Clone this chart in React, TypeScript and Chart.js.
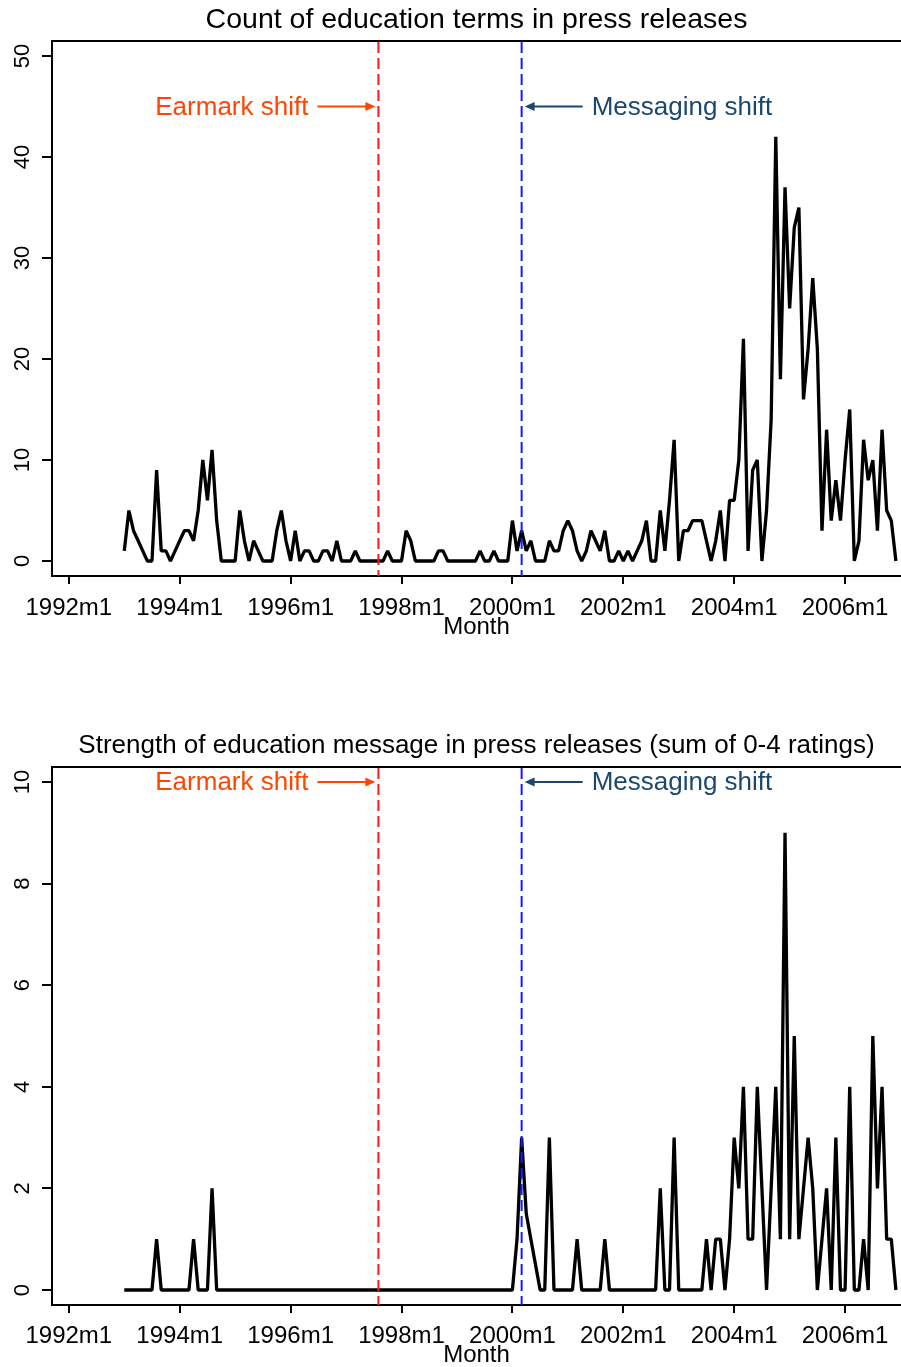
import React, { useEffect, useRef } from "react";
import { Chart, registerables } from "chart.js";

Chart.register(...registerables);

const FONT = '"Liberation Sans", Arial, Helvetica, sans-serif';

// months are counted from 1992m1 (= 0); the series start at 1993m1
const firstMonth = 12;
const xTickMonths = [0, 24, 48, 72, 96, 120, 144, 168];
const xTickLabels = ["1992m1", "1994m1", "1996m1", "1998m1", "2000m1", "2002m1", "2004m1", "2006m1"];
const countTicks = [0, 10, 20, 30, 40, 50];
const strengthTicks = [0, 2, 4, 6, 8, 10];

// Count of education terms in press releases, 1993m1 .. 2006m12
const countValues = [
  1, 5, 3, 2, 1, 0, 0, 9, 1, 1, 0, 1,
  2, 3, 3, 2, 5, 10, 6, 11, 4, 0, 0, 0,
  0, 5, 2, 0, 2, 1, 0, 0, 0, 3, 5, 2,
  0, 3, 0, 1, 1, 0, 0, 1, 1, 0, 2, 0,
  0, 0, 1, 0, 0, 0, 0, 0, 0, 1, 0, 0,
  0, 3, 2, 0, 0, 0, 0, 0, 1, 1, 0, 0,
  0, 0, 0, 0, 0, 1, 0, 0, 1, 0, 0, 0,
  4, 1, 3, 1, 2, 0, 0, 0, 2, 1, 1, 3,
  4, 3, 1, 0, 1, 3, 2, 1, 3, 0, 0, 1,
  0, 1, 0, 1, 2, 4, 0, 0, 5, 1, 6, 12,
  0, 3, 3, 4, 4, 4, 2, 0, 2, 5, 0, 6,
  6, 10, 22, 1, 9, 10, 0, 5, 14, 42, 18, 37,
  25, 33, 35, 16, 21, 28, 21, 3, 13, 4, 8, 4,
  10, 15, 0, 2, 12, 8, 10, 3, 13, 5, 4, 0,
];

// Strength of education message (sum of 0-4 ratings), 1993m1 .. 2006m12
const strengthValues = [
  0, 0, 0, 0, 0, 0, 0, 1, 0, 0, 0, 0,
  0, 0, 0, 1, 0, 0, 0, 2, 0, 0, 0, 0,
  0, 0, 0, 0, 0, 0, 0, 0, 0, 0, 0, 0,
  0, 0, 0, 0, 0, 0, 0, 0, 0, 0, 0, 0,
  0, 0, 0, 0, 0, 0, 0, 0, 0, 0, 0, 0,
  0, 0, 0, 0, 0, 0, 0, 0, 0, 0, 0, 0,
  0, 0, 0, 0, 0, 0, 0, 0, 0, 0, 0, 0,
  0, 1, 3, 1.5, 1, 0.5, 0, 0, 3, 0, 0, 0,
  0, 0, 1, 0, 0, 0, 0, 0, 1, 0, 0, 0,
  0, 0, 0, 0, 0, 0, 0, 0, 2, 0, 0, 3,
  0, 0, 0, 0, 0, 0, 1, 0, 1, 1, 0, 1,
  3, 2, 4, 1, 1, 4, 2, 0, 2, 4, 1, 9,
  1, 5, 1, 2, 3, 2, 0, 1, 2, 0, 3, 0,
  0, 4, 0, 0, 1, 0, 5, 2, 4, 1, 1, 0,
];

const shiftMonths = [67, 98]; // 1997m8, 2000m3
const shiftLabels = ["Earmark shift", "Messaging shift"];
const shiftLineColors = ["#ff1a1a", "#1a1aff"];
const shiftTextColors = ["#ff4500", "#1a476f"];

const shiftPlugin = {
  id: "shiftMarks",
  afterDatasetsDraw(chart: any, _args: any, opts: any) {
    const { ctx, chartArea: a, scales } = chart;
    const x = scales.x;
    const y = scales.y;
    ctx.save();
    // top frame line of the plot region
    ctx.strokeStyle = "#000";
    ctx.lineWidth = 2;
    ctx.beginPath();
    ctx.moveTo(a.left - 1, a.top);
    ctx.lineTo(a.right, a.top);
    ctx.stroke();

    const ly = y.getPixelForValue(opts.labelValue);
    shiftMonths.forEach((m: number, i: number) => {
      const px = x.getPixelForValue(m);
      ctx.setLineDash([11, 5]);
      ctx.strokeStyle = shiftLineColors[i];
      ctx.lineWidth = 2;
      ctx.beginPath();
      ctx.moveTo(px, a.top + 1);
      ctx.lineTo(px, a.bottom);
      ctx.stroke();
      ctx.setLineDash([]);

      const dir = i === 0 ? -1 : 1;
      const col = shiftTextColors[i];
      ctx.strokeStyle = col;
      ctx.fillStyle = col;
      ctx.lineWidth = 2;
      const tip = px + dir * 3;
      const tail = px + dir * 61;
      ctx.beginPath();
      ctx.moveTo(tail, ly);
      ctx.lineTo(tip + dir * 6, ly);
      ctx.stroke();
      ctx.beginPath();
      ctx.moveTo(tip, ly);
      ctx.lineTo(tip + dir * 10, ly - 4.5);
      ctx.lineTo(tip + dir * 10, ly + 4.5);
      ctx.closePath();
      ctx.fill();

      ctx.font = `26px ${FONT}`;
      ctx.textBaseline = "middle";
      ctx.textAlign = dir < 0 ? "right" : "left";
      ctx.fillText(shiftLabels[i], px + dir * 70, ly + 1);
    });
    ctx.restore();
  },
};

type PanelProps = {
  values: number[];
  title: string;
  titleSize: number;
  titlePadTop: number;
  titlePadBottom: number;
  yMin: number;
  yMax: number;
  yTicks: number[];
  labelValue: number;
  height: number;
  xAxisHeight: number;
  tickPad: number;
  monthPad: number;
  top: number;
};

function Panel(p: PanelProps) {
  const ref = useRef<HTMLCanvasElement | null>(null);
  useEffect(() => {
    if (!ref.current) return;
    const chart = new Chart(ref.current, {
      type: "line",
      data: {
        datasets: [
          {
            data: p.values.map((v, i) => ({ x: firstMonth + i, y: v })),
            borderColor: "#000",
            borderWidth: 3.3,
            pointRadius: 0,
            tension: 0,
            fill: false,
            borderJoinStyle: "bevel",
          } as any,
        ],
      },
      plugins: [shiftPlugin as any],
      options: {
        responsive: false,
        animation: false,
        layout: { padding: 0 },
        plugins: {
          legend: { display: false },
          tooltip: { enabled: false },
          title: {
            display: true,
            fullSize: false,
            text: p.title,
            color: "#000",
            font: { family: FONT, size: p.titleSize, weight: "normal", lineHeight: 1.2 },
            padding: { top: p.titlePadTop, bottom: p.titlePadBottom },
          },
          shiftMarks: { labelValue: p.labelValue },
        } as any,
        scales: {
          x: {
            type: "linear",
            bounds: "data",
            min: -3.64,
            max: 180.1,
            afterBuildTicks: (s: any) => {
              s.ticks = xTickMonths.map((v) => ({ value: v }));
            },
            afterFit: (s: any) => {
              s.height = p.xAxisHeight;
            },
            ticks: {
              autoSkip: false,
              maxRotation: 0,
              minRotation: 0,
              padding: p.tickPad,
              color: "#000",
              font: { family: FONT, size: 24 },
              callback: (_v: any, i: number) => xTickLabels[i],
            },
            grid: {
              display: true,
              drawOnChartArea: false,
              drawTicks: true,
              tickLength: 8,
              color: "#000",
              lineWidth: 2,
            },
            border: { display: true, color: "#000", width: 2 },
            title: {
              display: true,
              text: "Month",
              color: "#000",
              font: { family: FONT, size: 24, lineHeight: 1 },
              padding: { top: 0, bottom: p.monthPad },
            },
          } as any,
          y: {
            type: "linear",
            bounds: "data",
            min: p.yMin,
            max: p.yMax,
            afterBuildTicks: (s: any) => {
              s.ticks = p.yTicks.map((v) => ({ value: v }));
            },
            afterFit: (s: any) => {
              s.width = 52;
            },
            ticks: {
              minRotation: 90,
              maxRotation: 90,
              crossAlign: "center",
              padding: 7,
              color: "#000",
              font: { family: FONT, size: 22 },
              callback: (v: any) => String(v),
            },
            grid: {
              display: true,
              drawOnChartArea: false,
              drawTicks: true,
              tickLength: 10,
              color: "#000",
              lineWidth: 2,
            },
            border: { display: true, color: "#000", width: 2 },
          } as any,
        },
      },
    });
    return () => chart.destroy();
  }, []);
  return (
    <canvas
      ref={ref}
      width={901}
      height={p.height}
      style={{ position: "absolute", left: 0, top: p.top, width: 901, height: p.height }}
    />
  );
}

export default function App() {
  return (
    <div
      style={{
        position: "absolute",
        left: 0,
        top: 0,
        width: 901,
        height: 1367,
        background: "#fff",
        overflow: "hidden",
      }}
    >
      <Panel
        values={countValues}
        title="Count of education terms in press releases"
        titleSize={28.5}
        titlePadTop={3}
        titlePadBottom={3.8}
        yMin={-1.485}
        yMax={51.485}
        yTicks={countTicks}
        labelValue={45}
        height={660}
        xAxisHeight={84}
        tickPad={9.6}
        monthPad={21}
        top={0}
      />
      <Panel
        values={strengthValues}
        title="Strength of education message in press releases (sum of 0-4 ratings)"
        titleSize={26}
        titlePadTop={10.4}
        titlePadBottom={5.4}
        yMin={-0.295}
        yMax={10.295}
        yTicks={strengthTicks}
        labelValue={10}
        height={647}
        xAxisHeight={62}
        tickPad={8.6}
        monthPad={0}
        top={720}
      />
    </div>
  );
}
